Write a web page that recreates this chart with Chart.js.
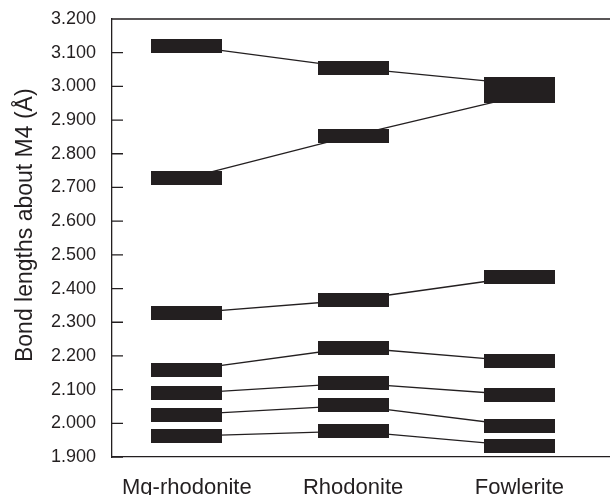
<!DOCTYPE html>
<html>
<head>
<meta charset="utf-8">
<script src="https://cdn.jsdelivr.net/npm/chart.js@4/dist/chart.umd.min.js"></script>
<style>
  html, body { margin: 0; padding: 0; background: #fff; }
  #wrap { width: 610px; height: 495px; }
</style>
</head>
<body>
<div id="wrap"><canvas id="chart"></canvas></div>
<script>
// minerals along the x axis
const categories = ["Mg-rhodonite", "Rhodonite", "Fowlerite"];

// M4 bond lengths (Å), one row per bond
const bond1 = [1.962, 1.977, 1.933];
const bond2 = [2.026, 2.053, 1.992];
const bond3 = [2.089, 2.119, 2.084];
const bond4 = [2.158, 2.225, 2.184];
const bond5 = [2.327, 2.366, 2.435];
const bond6 = [2.728, 2.854, 2.971];
const bond7 = [3.120, 3.055, 3.007];
const bonds = [bond1, bond2, bond3, bond4, bond5, bond6, bond7];

const yTicks = [1.9, 2.0, 2.1, 2.2, 2.3, 2.4, 2.5, 2.6, 2.7, 2.8, 2.9, 3.0, 3.1, 3.2];

const ink = "#231f20";

// black bar used as marker
const bar = document.createElement("canvas");
bar.width = 71;
bar.height = 14;
const bctx = bar.getContext("2d");
bctx.fillStyle = ink;
bctx.fillRect(0, 0, 71, 14);

const toPoints = arr => arr.map((v, i) => ({ x: i, y: v }));

const datasets = [];
bonds.forEach(b => {
  datasets.push({
    data: toPoints(b),
    borderColor: ink,
    borderWidth: 1.3,
    pointRadius: 0,
    order: 1
  });
  datasets.push({
    data: toPoints(b),
    showLine: false,
    pointStyle: bar,
    pointRadius: 1,
    order: 0
  });
});

// ticks point inward + top frame line
const innerTicks = {
  id: "innerTicks",
  afterDatasetsDraw(chart) {
    const { ctx, chartArea, scales: { y } } = chart;
    ctx.save();
    ctx.strokeStyle = ink;
    ctx.lineWidth = 1.3;
    ctx.beginPath();
    y.ticks.forEach(t => {
      const py = y.getPixelForValue(t.value);
      ctx.moveTo(chartArea.left, py);
      ctx.lineTo(chartArea.left + 11, py);
    });
    ctx.moveTo(chartArea.left, chartArea.top);
    ctx.lineTo(chartArea.right, chartArea.top);
    ctx.stroke();
    ctx.restore();
  }
};

new Chart(document.getElementById("chart"), {
  type: "line",
  data: { datasets },
  options: {
    responsive: true,
    maintainAspectRatio: false,
    animation: false,
    layout: { autoPadding: false, padding: { top: 19, right: 0, bottom: 0, left: 0 } },
    plugins: { legend: { display: false }, tooltip: { enabled: false } },
    scales: {
      x: {
        type: "linear",
        min: -0.45,
        max: 2.545,
        afterBuildTicks: s => { s.ticks = categories.map((c, i) => ({ value: i })); },
        afterFit: s => { s.height = 38; },
        grid: { display: false },
        border: { display: true, color: ink, width: 1.3 },
        ticks: {
          padding: 10,
          color: ink,
          font: { family: "'Liberation Sans', Arial, sans-serif", size: 22 },
          callback: v => categories[v]
        }
      },
      y: {
        min: 1.9,
        max: 3.2,
        afterBuildTicks: s => { s.ticks = yTicks.map(v => ({ value: v })); },
        afterFit: s => { s.width = 112; },
        grid: { display: false },
        border: { display: true, color: ink, width: 1.3 },
        ticks: {
          padding: 8,
          color: ink,
          font: { family: "'Liberation Sans', Arial, sans-serif", size: 18 },
          callback: v => Number(v).toFixed(3)
        },
        title: {
          display: true,
          text: "    Bond lengths about M4 (Å)",
          color: ink,
          padding: { top: 12, bottom: 0 },
          font: { family: "'Liberation Sans', Arial, sans-serif", size: 23 }
        }
      }
    }
  },
  plugins: [innerTicks]
});
</script>
</body>
</html>
